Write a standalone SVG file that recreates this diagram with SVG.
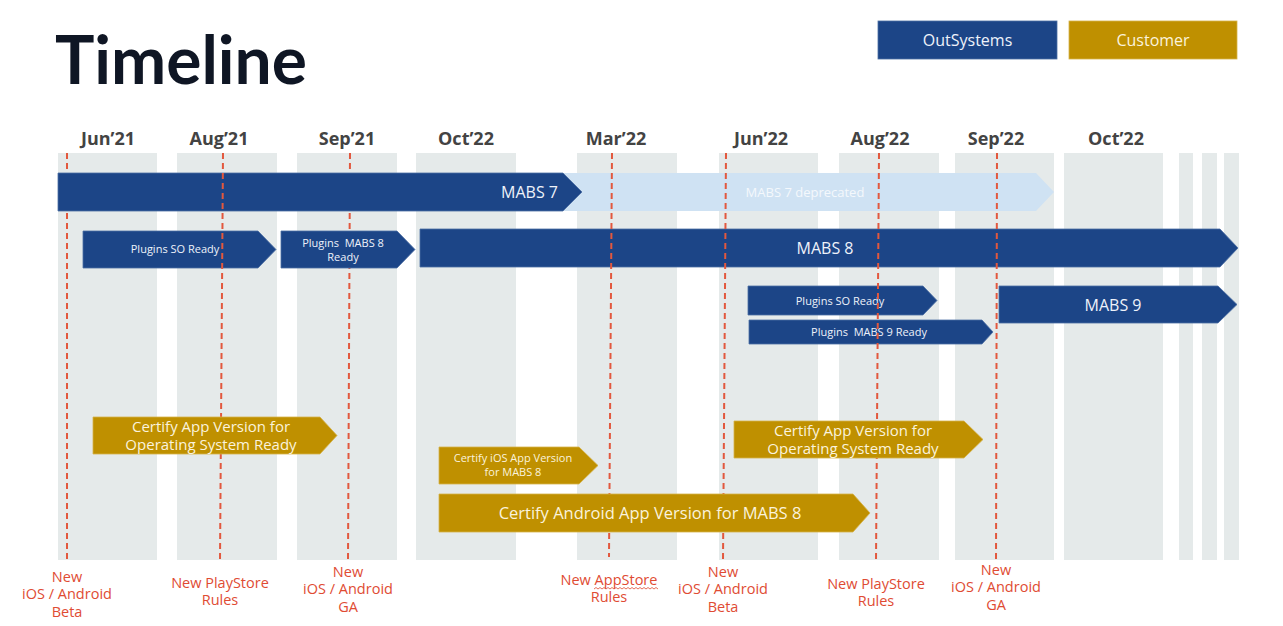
<svg xmlns="http://www.w3.org/2000/svg" width="1283" height="626" viewBox="0 0 1283 626">
<style>
.col{fill:#e5eaea}
.os{fill:#1c4587;stroke:#4d6fa3;stroke-width:0.8}
.cu{fill:#bf9000;stroke:#d6b34a;stroke-width:0.8}
.dep{fill:#cfe2f3}
.t{font-family:"Open Sans","Noto Sans",sans-serif;fill:#eef2fa;text-anchor:middle}
.tc{font-family:"Open Sans","Noto Sans",sans-serif;fill:#fbf3dc;text-anchor:middle}
.m{font-family:"Open Sans","Noto Sans",sans-serif;font-weight:bold;font-size:18px;fill:#434343;text-anchor:middle}
.ev{font-family:"Open Sans","Noto Sans",sans-serif;font-size:14.5px;fill:#e04b33;text-anchor:middle}
.dl{stroke:#e2583e;stroke-width:2;stroke-dasharray:6 4;fill:none}
</style>
<rect width="1283" height="626" fill="#ffffff"/>
<text x="55" y="84" font-family="Lato,'Open Sans',sans-serif" font-weight="bold" font-size="66" fill="#0f1624" textLength="252" lengthAdjust="spacingAndGlyphs">Timeline</text>
<g id="legend-outsystems"><rect x="878" y="21" width="179" height="38" class="os"/><text x="967.5" y="46" class="t" font-size="16">OutSystems</text></g>
<g id="legend-customer"><rect x="1069" y="21" width="168" height="38" class="cu"/><text x="1153" y="46" class="tc" font-size="16">Customer</text></g>
<g id="columns">
<rect class="col" x="58" y="153" width="99" height="407"/>
<rect class="col" x="177" y="153" width="100" height="407"/>
<rect class="col" x="297" y="153" width="100" height="407"/>
<rect class="col" x="416" y="153" width="100" height="407"/>
<rect class="col" x="577" y="153" width="100" height="407"/>
<rect class="col" x="719" y="153" width="99" height="407"/>
<rect class="col" x="839" y="153" width="100" height="407"/>
<rect class="col" x="955" y="153" width="99" height="407"/>
<rect class="col" x="1064" y="153" width="99" height="407"/>
<rect class="col" x="1179" y="153" width="14" height="407"/>
<rect class="col" x="1202" y="153" width="15" height="407"/>
<rect class="col" x="1224" y="153" width="15" height="407"/>
</g>
<g id="months">
<text class="m" x="108" y="145">Jun’21</text>
<text class="m" x="219" y="145">Aug’21</text>
<text class="m" x="347" y="145">Sep’21</text>
<text class="m" x="466" y="145">Oct’22</text>
<text class="m" x="616" y="145">Mar’22</text>
<text class="m" x="761" y="145">Jun’22</text>
<text class="m" x="880" y="145">Aug’22</text>
<text class="m" x="996" y="145">Sep’22</text>
<text class="m" x="1116" y="145">Oct’22</text>
</g>
<g id="lines-under">
<line class="dl" x1="67" y1="153" x2="67" y2="561"/>
<line class="dl" x1="350" y1="153" x2="348" y2="561"/>
</g>
<g id="mabs7-deprecated"><polygon class="dep" points="563,173 1036,173 1054,192 1036,211 563,211"/><text x="805" y="197" class="t" font-size="13" fill="#ffffff" style="fill:#f4f8fc">MABS 7 deprecated</text></g>
<g id="mabs7"><polygon class="os" points="58,173 563,173 582,192 563,211 58,211"/><text x="558" y="198" class="t" font-size="16" text-anchor="end" style="text-anchor:end">MABS 7</text></g>
<g id="plugins-so-ready-1"><polygon class="os" points="83,231 258,231 276,249.5 258,268 83,268"/><text x="175" y="253" class="t" font-size="11">Plugins SO Ready</text></g>
<g id="plugins-mabs8-ready"><polygon class="os" points="281,231 397,231 415,249.5 397,268 281,268"/><text x="343" y="247" class="t" font-size="11" xml:space="preserve">Plugins  MABS 8</text><text x="343" y="261" class="t" font-size="11">Ready</text></g>
<g id="mabs8"><polygon class="os" points="420,229 1220,229 1238,248 1220,267 420,267"/><text x="825" y="254" class="t" font-size="16">MABS 8</text></g>
<g id="plugins-so-ready-2"><polygon class="os" points="748,286 923,286 937,300.5 923,315 748,315"/><text x="840" y="305" class="t" font-size="11">Plugins SO Ready</text></g>
<g id="plugins-mabs9-ready"><polygon class="os" points="749,320 982,320 993,332 982,344 749,344"/><text x="869" y="336" class="t" font-size="11" xml:space="preserve">Plugins  MABS 9 Ready</text></g>
<g id="mabs9"><polygon class="os" points="999,286 1218,286 1237,304.5 1218,323 999,323"/><text x="1113" y="311" class="t" font-size="16">MABS 9</text></g>
<g id="lines-over">
<line class="dl" x1="223" y1="153" x2="220" y2="561"/>
<line class="dl" x1="612" y1="153" x2="609" y2="557"/>
<line class="dl" x1="726" y1="153" x2="723" y2="561"/>
<line class="dl" x1="879" y1="153" x2="876" y2="561"/>
<line class="dl" x1="997" y1="153" x2="996" y2="561"/>
</g>
<g id="certify-os-1"><polygon class="cu" points="93,417 320,417 337,435.5 320,454 93,454"/><text x="211" y="432" class="tc" font-size="15">Certify App Version for</text><text x="211" y="450" class="tc" font-size="15">Operating System Ready</text></g>
<g id="certify-ios-mabs8"><polygon class="cu" points="439,447 579,447 598,465.5 579,484 439,484"/><text x="513" y="462" class="tc" font-size="11">Certify iOS App Version</text><text x="513" y="476" class="tc" font-size="11">for MABS 8</text></g>
<g id="certify-android-mabs8"><polygon class="cu" points="439,494 853,494 870,513 853,532 439,532"/><text x="650" y="519" class="tc" font-size="16.5">Certify Android App Version for MABS 8</text></g>
<g id="certify-os-2"><polygon class="cu" points="734,421 964,421 983,439.5 964,458 734,458"/><text x="853" y="436" class="tc" font-size="15">Certify App Version for</text><text x="853" y="454" class="tc" font-size="15">Operating System Ready</text></g>
<g id="events">
<text class="ev" x="67" y="582">New</text><text class="ev" x="67" y="599">iOS / Android</text><text class="ev" x="67" y="617">Beta</text>
<text class="ev" x="220" y="588">New PlayStore</text><text class="ev" x="220" y="605">Rules</text>
<text class="ev" x="348" y="577">New</text><text class="ev" x="348" y="594">iOS / Android</text><text class="ev" x="348" y="612">GA</text>
<text class="ev" x="609" y="585">New AppStore</text><text class="ev" x="609" y="602">Rules</text>
<path d="M594,589 l2,-1.5 l2,1.5 l2,-1.5 l2,1.5 l2,-1.5 l2,1.5 l2,-1.5 l2,1.5 l2,-1.5 l2,1.5 l2,-1.5 l2,1.5 l2,-1.5 l2,1.5 l2,-1.5 l2,1.5 l2,-1.5 l2,1.5 l2,-1.5 l2,1.5 l2,-1.5 l2,1.5 l2,-1.5 l2,1.5 l2,-1.5 l2,1.5 l2,-1.5 l2,1.5 l2,-1.5 l2,1.5 l2,-1.5 l2,1.5" fill="none" stroke="#e04b33" stroke-width="0.8"/>
<text class="ev" x="723" y="577">New</text><text class="ev" x="723" y="594">iOS / Android</text><text class="ev" x="723" y="612">Beta</text>
<text class="ev" x="876" y="589">New PlayStore</text><text class="ev" x="876" y="606">Rules</text>
<text class="ev" x="996" y="575">New</text><text class="ev" x="996" y="592">iOS / Android</text><text class="ev" x="996" y="610">GA</text>
</g>
</svg>
